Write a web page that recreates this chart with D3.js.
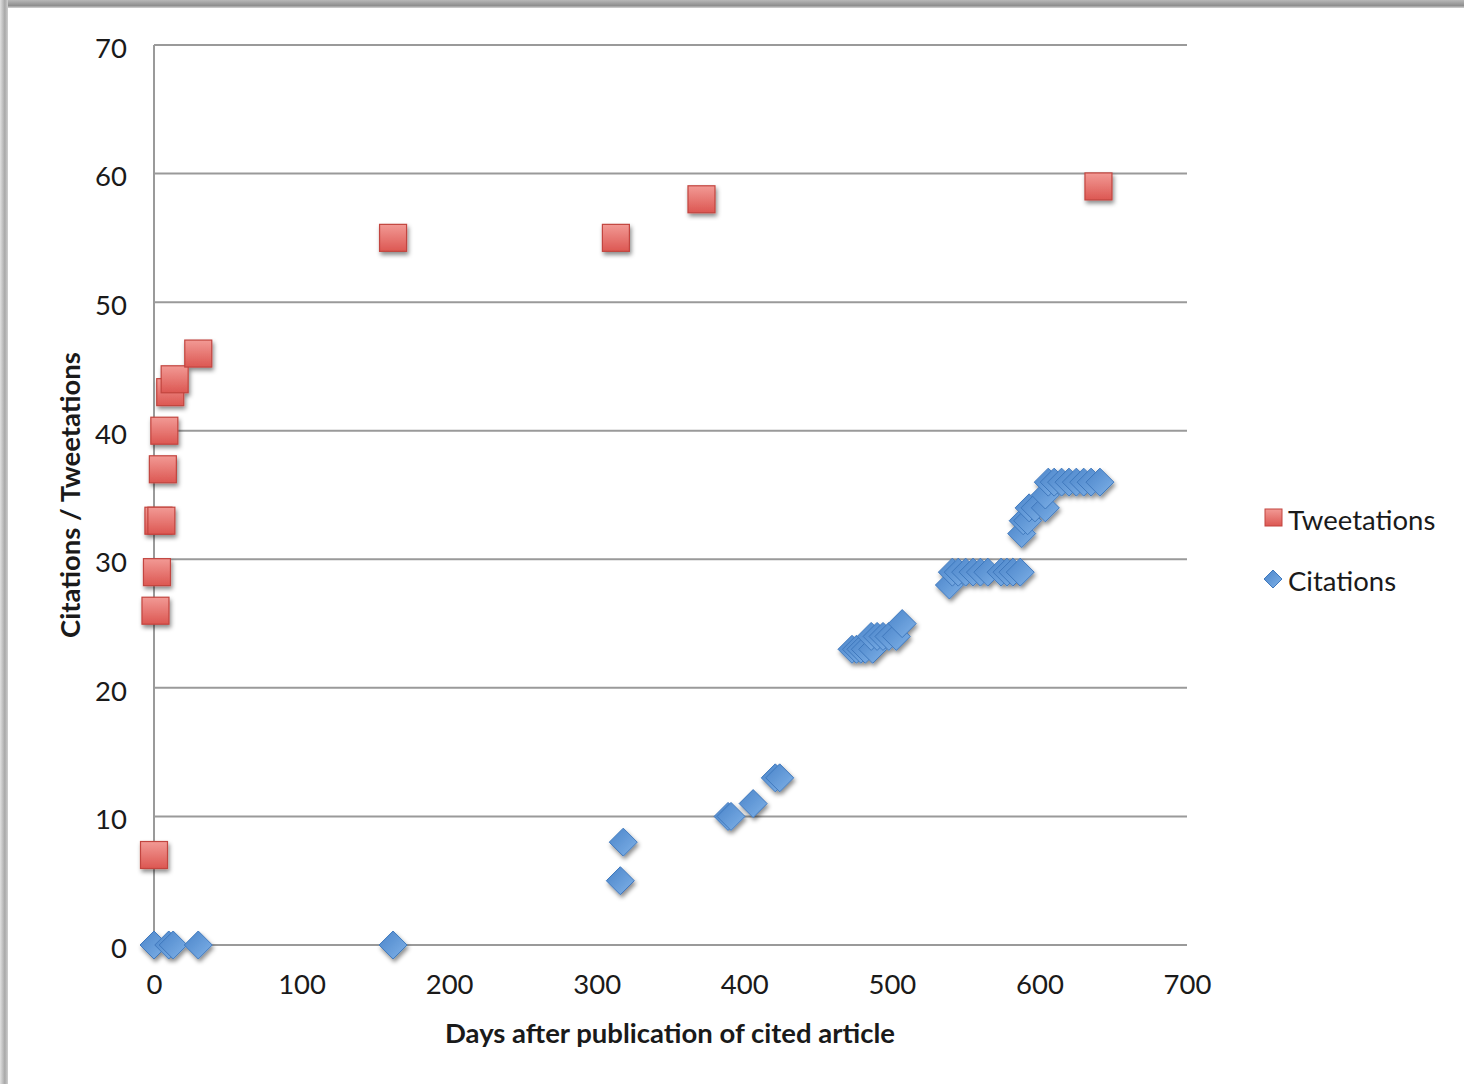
<!DOCTYPE html>
<html>
<head>
<meta charset="utf-8">
<script src="https://cdn.jsdelivr.net/npm/d3@7"></script>
<style>
  html, body { margin: 0; padding: 0; background: #fff; }
  svg { display: block; }
  text { font-family: Lato, "Open Sans", sans-serif; fill: #1a1a1a; }
</style>
</head>
<body>
<svg id="chart" width="1464" height="1084"></svg>
<script>
// ---- data ----
const tweetDays   = [0, 1, 2, 3, 5, 6, 7, 11, 14, 30, 162, 313, 371, 640];
const tweetValues = [7, 26, 29, 33, 33, 37, 40, 43, 44, 46, 55, 55, 58, 59];

const citeDays   = [0, 10, 13, 30, 162, 316, 318, 389, 391, 406, 421, 424,
                    473, 476, 479, 482, 487, 486, 490, 494, 498, 503, 507,
                    539, 541, 545, 550, 555, 560, 565, 574, 578, 582, 587,
                    588, 589, 592, 593, 597, 604, 604,
                    606, 610, 615, 620, 625, 630, 635, 641];
const citeValues = [0, 0, 0, 0, 0, 5, 8, 10, 10, 11, 13, 13,
                    23, 23, 23, 23, 23, 24, 24, 24, 24, 24, 25,
                    28, 29, 29, 29, 29, 29, 29, 29, 29, 29, 29,
                    32, 33, 33, 34, 34, 34, 35,
                    36, 36, 36, 36, 36, 36, 36, 36];

const xTicks = [0, 100, 200, 300, 400, 500, 600, 700];
const yTicks = [0, 10, 20, 30, 40, 50, 60, 70];
const seriesNames = ["Tweetations", "Citations"];
const xTitle = "Days after publication of cited article";
const yTitle = "Citations / Tweetations";

// ---- layout ----
const svg = d3.select("#chart");
const plot = { left: 154, right: 1187, top: 45, bottom: 945 };
const x = d3.scaleLinear().domain([0, 700]).range([plot.left, plot.right]);
const y = d3.scaleLinear().domain([0, 70]).range([plot.bottom, plot.top]);

const defs = svg.append("defs");
const gTop = defs.append("linearGradient").attr("id", "frameTop").attr("x1", 0).attr("y1", 0).attr("x2", 0).attr("y2", 1);
gTop.append("stop").attr("offset", "0%").attr("stop-color", "#b8b8b8");
gTop.append("stop").attr("offset", "70%").attr("stop-color", "#8e8e8e");
gTop.append("stop").attr("offset", "100%").attr("stop-color", "#d6d6d6");
const gLeft = defs.append("linearGradient").attr("id", "frameLeft").attr("x1", 0).attr("y1", 0).attr("x2", 1).attr("y2", 0);
gLeft.append("stop").attr("offset", "0%").attr("stop-color", "#e0e0e0");
gLeft.append("stop").attr("offset", "60%").attr("stop-color", "#a8a8a8");
gLeft.append("stop").attr("offset", "100%").attr("stop-color", "#cfcfcf");

const sqGrad = defs.append("linearGradient").attr("id", "sqGrad").attr("x1", 0).attr("y1", 0).attr("x2", 0).attr("y2", 1);
sqGrad.append("stop").attr("offset", "0%").attr("stop-color", "#f29a95");
sqGrad.append("stop").attr("offset", "100%").attr("stop-color", "#dc5752");
const dmGrad = defs.append("linearGradient").attr("id", "dmGrad").attr("x1", 0).attr("y1", 0).attr("x2", 1).attr("y2", 1);
dmGrad.append("stop").attr("offset", "0%").attr("stop-color", "#4a84c9");
dmGrad.append("stop").attr("offset", "100%").attr("stop-color", "#80b2e8");

const shadow = defs.append("filter").attr("id", "shadow").attr("x", "-50%").attr("y", "-50%").attr("width", "200%").attr("height", "200%");
shadow.append("feDropShadow").attr("dx", 1.5).attr("dy", 3).attr("stdDeviation", 2)
  .attr("flood-color", "#000").attr("flood-opacity", 0.45);

svg.append("rect").attr("x", 0).attr("y", 0).attr("width", 1464).attr("height", 1084).attr("fill", "#fff");
svg.append("rect").attr("x", 0).attr("y", 0).attr("width", 1464).attr("height", 8).attr("fill", "url(#frameTop)");
svg.append("rect").attr("x", 0).attr("y", 0).attr("width", 8).attr("height", 1084).attr("fill", "url(#frameLeft)");

// gridlines
svg.append("g").selectAll("line").data(yTicks).join("line")
  .attr("x1", plot.left).attr("x2", plot.right)
  .attr("y1", d => y(d)).attr("y2", d => y(d))
  .attr("stroke", "#9a9a9a").attr("stroke-width", 2);
svg.append("line").attr("x1", x(0)).attr("x2", x(0)).attr("y1", plot.top).attr("y2", plot.bottom)
  .attr("stroke", "#9a9a9a").attr("stroke-width", 2);

const fs = "27.5px";
const yAxis = svg.append("g").attr("transform", `translate(${plot.left},0)`)
  .call(d3.axisLeft(y).tickValues(yTicks).tickSize(0).tickPadding(27));
yAxis.select(".domain").remove();
yAxis.selectAll("text").style("font-size", fs).style("font-family", "Lato, sans-serif")
  .attr("fill", "#1a1a1a").attr("dy", "0.45em");

const xAxis = svg.append("g").attr("transform", `translate(0,${plot.bottom})`)
  .call(d3.axisBottom(x).tickValues(xTicks).tickSize(0).tickPadding(29));
xAxis.select(".domain").remove();
xAxis.selectAll("text").style("font-size", fs).style("font-family", "Lato, sans-serif")
  .attr("fill", "#1a1a1a");

// titles
svg.append("text").attr("x", 670).attr("y", 1043).attr("text-anchor", "middle")
  .style("font-size", fs).style("font-weight", "bold").text(xTitle);
svg.append("text").attr("transform", "translate(80,495) rotate(-90)").attr("text-anchor", "middle")
  .style("font-size", fs).style("font-weight", "bold").text(yTitle);

// markers
const citeData = citeDays.map((d, i) => ({ x: citeDays[i], y: citeValues[i] }));
const tweetData = tweetDays.map((d, i) => ({ x: tweetDays[i], y: tweetValues[i] }));

const diamondPath = (cx, cy, r) => `M${cx},${cy - r}L${cx + r},${cy}L${cx},${cy + r}L${cx - r},${cy}Z`;

svg.append("g").attr("filter", "url(#shadow)").selectAll("path").data(citeData).join("path")
  .attr("d", d => diamondPath(x(d.x), y(d.y), 14))
  .attr("fill", "url(#dmGrad)").attr("stroke", "#3f78bd").attr("stroke-width", 1);

const sq = 27;
svg.append("g").attr("filter", "url(#shadow)").selectAll("rect").data(tweetData).join("rect")
  .attr("x", d => x(d.x) - sq / 2).attr("y", d => y(d.y) - sq / 2)
  .attr("width", sq).attr("height", sq)
  .attr("fill", "url(#sqGrad)").attr("stroke", "#c2453f").attr("stroke-width", 1.2);

// legend
const leg = svg.append("g");
leg.append("rect").attr("x", 1265).attr("y", 509).attr("width", 17).attr("height", 17)
  .attr("fill", "url(#sqGrad)").attr("stroke", "#c2453f").attr("stroke-width", 1);
leg.append("text").attr("x", 1288).attr("y", 530).style("font-size", fs).text(seriesNames[0]);
leg.append("path").attr("d", diamondPath(1273, 579, 9))
  .attr("fill", "url(#dmGrad)").attr("stroke", "#3f78bd").attr("stroke-width", 1);
leg.append("text").attr("x", 1288).attr("y", 591).style("font-size", fs).text(seriesNames[1]);
</script>
</body>
</html>
